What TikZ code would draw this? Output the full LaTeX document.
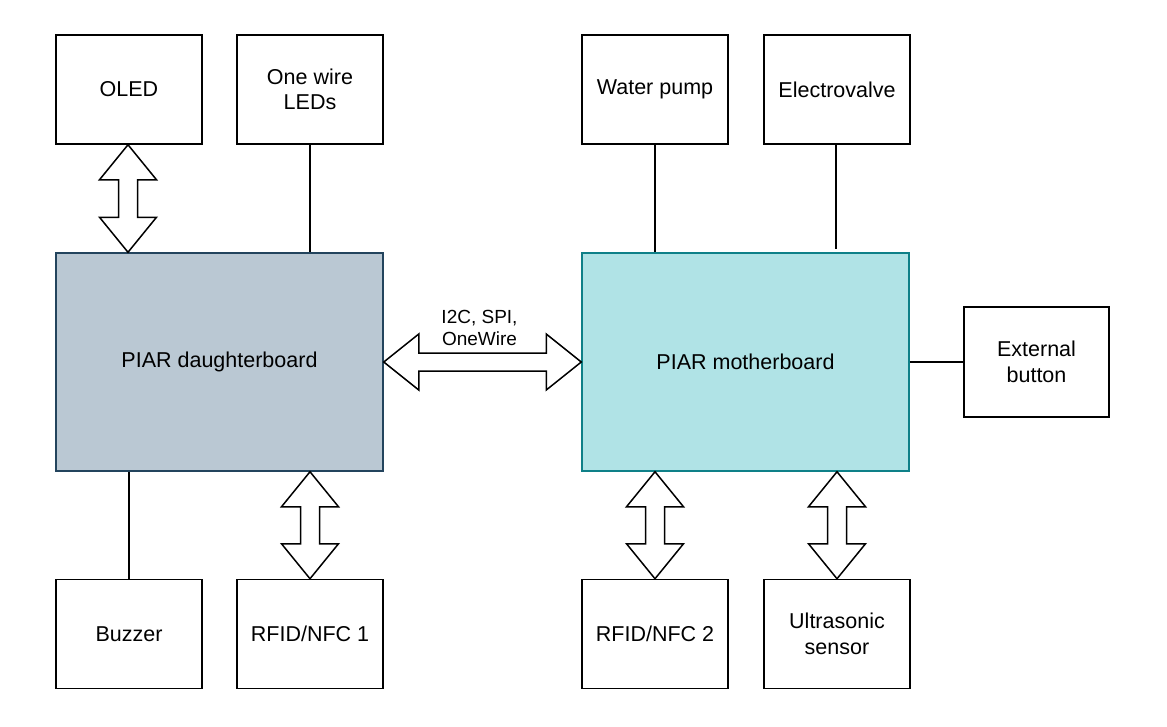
\documentclass[tikz,border=0pt]{standalone}
\usepackage{fontspec}
\setmainfont{Liberation Sans}
\usetikzlibrary{calc}
\definecolor{dauFill}{HTML}{BAC8D3}
\definecolor{dauLine}{HTML}{23445D}
\definecolor{motFill}{HTML}{B0E3E6}
\definecolor{motLine}{HTML}{0E8088}
\tikzset{
  boxnode/.style={draw=black, line width=1.5pt, fill=white, minimum width=146pt, minimum height=109pt,
    inner sep=0pt, align=center, font=\fontsize{21.5pt}{25.5pt}\selectfont},
  board/.style={boxnode, minimum width=327pt, minimum height=218pt},
  link/.style={draw=black, line width=1.5pt},
  blk/.style={draw=black, line width=1.5pt, fill=white, line join=miter},
}
\newcommand\dblArrowV[2]{%
  \path[blk] let \p1=(#1), \p2=(#2) in
    (\x1,\y1) -- ({\x1+28.5pt},{\y1-35pt}) -- ({\x1+9.5pt},{\y1-35pt}) -- ({\x1+9.5pt},{\y2+35pt})
    -- ({\x1+28.5pt},{\y2+35pt}) -- (\x1,\y2) -- ({\x1-28.5pt},{\y2+35pt}) -- ({\x1-9.5pt},{\y2+35pt})
    -- ({\x1-9.5pt},{\y1-35pt}) -- ({\x1-28.5pt},{\y1-35pt}) -- cycle;}
\newcommand\dblArrowH[2]{%
  \path[blk] let \p1=(#1), \p2=(#2) in
    (\x1,\y1) -- ({\x1+35pt},{\y1+28pt}) -- ({\x1+35pt},{\y1+9pt}) -- ({\x2-35pt},{\y1+9pt})
    -- ({\x2-35pt},{\y1+28pt}) -- (\x2,\y1) -- ({\x2-35pt},{\y1-28pt}) -- ({\x2-35pt},{\y1-9pt})
    -- ({\x1+35pt},{\y1-9pt}) -- ({\x1+35pt},{\y1-28pt}) -- cycle;}
\begin{document}
\begin{tikzpicture}[x=1pt,y=-1pt]
\useasboundingbox[fill=white] (0,0) rectangle (1167,726);
% top row
\node[boxnode] (oled) at (129,89.5) {OLED};
\node[boxnode] (leds) at (310,89.5) {One wire\\LEDs};
\node[boxnode] (pump) at (655,89.5) {Water pump};
\node[boxnode] (ev) at (837,89.5) {Electrovalve};
% boards
\node[board, fill=dauFill, draw=dauLine] (dau) at (219.5,362) {PIAR daughterboard};
\node[board, fill=motFill, draw=motLine] (mot) at (745.5,362) {PIAR motherboard};
\node[boxnode, minimum width=145pt, minimum height=110pt] (btn) at (1036.5,362) {External\\button};
% bottom row
\node[boxnode] (buz) at (129,634) {Buzzer};
\node[boxnode] (rf1) at (310,634) {RFID/NFC 1};
\node[boxnode] (rf2) at (655,634) {RFID/NFC 2};
\node[boxnode] (us) at (837,634) {Ultrasonic\\sensor};
% coordinates for connectors
\coordinate (oledA) at ($(oled.south)+(-1,0)$);
\coordinate (oledB) at (oledA |- dau.north);
\coordinate (rf1A) at (rf1.north |- dau.south);
\coordinate (rf2A) at (rf2.north |- mot.south);
\coordinate (usA) at (us.north |- mot.south);
\coordinate (evA) at ($(ev.south)+(-1,0)$);
\coordinate (evB) at ($(evA |- mot.north)+(0,-3)$);
% plain links
\draw[link] (leds.south) -- (leds.south |- dau.north);
\draw[link] (pump.south) -- (pump.south |- mot.north);
\draw[link] (evA) -- (evB);
\draw[link] (mot.east) -- (btn.west);
\draw[link] (buz.north |- dau.south) -- (buz.north);
% block arrows
\dblArrowV{oledA}{oledB}
\dblArrowV{rf1A}{rf1.north}
\dblArrowV{rf2A}{rf2.north}
\dblArrowV{usA}{us.north}
\dblArrowH{dau.east}{mot.west}
\node[align=center, inner sep=0pt, font=\fontsize{19pt}{22pt}\selectfont] (lbl) at ($($(dau.east)!0.5!(mot.west)$)+(-3,-34)$) {I2C, SPI,\\OneWire};
\end{tikzpicture}
\end{document}
